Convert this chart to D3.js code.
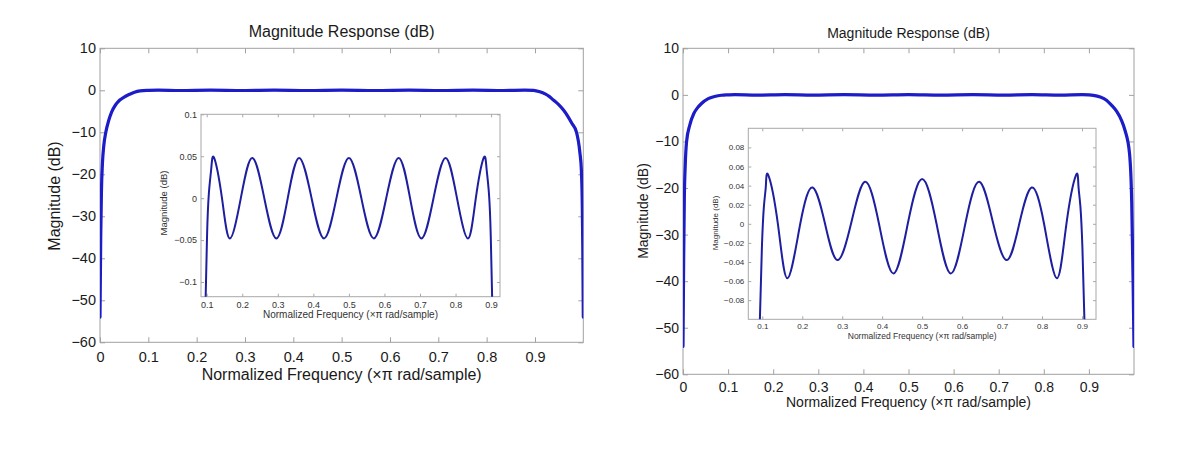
<!DOCTYPE html>
<html><head><meta charset="utf-8">
<script src="https://cdn.jsdelivr.net/npm/d3@7"></script>
<style>
body{margin:0;background:#fff}
svg{display:block}
</style>
</head><body>
<svg id="c" width="1200" height="466"></svg>
<script>
// ---------------- data ----------------
const mainXTicks = [0, 0.1, 0.2, 0.3, 0.4, 0.5, 0.6, 0.7, 0.8, 0.9];
const mainXTickLabels = ["0", "0.1", "0.2", "0.3", "0.4", "0.5", "0.6", "0.7", "0.8", "0.9"];
const mainYTicks = [10, 0, -10, -20, -30, -40, -50, -60];
const mainYTickLabels = ["10", "0", "\u221210", "\u221220", "\u221230", "\u221240", "\u221250", "\u221260"];

const insetXTicks = [0.1, 0.2, 0.3, 0.4, 0.5, 0.6, 0.7, 0.8, 0.9];
const insetXTickLabels = ["0.1", "0.2", "0.3", "0.4", "0.5", "0.6", "0.7", "0.8", "0.9"];
const leftInsetYTicks = [0.1, 0.05, 0, -0.05, -0.1];
const leftInsetYTickLabels = ["0.1", "0.05", "0", "\u22120.05", "\u22120.1"];
const rightInsetYTicks = [0.08, 0.06, 0.04, 0.02, 0, -0.02, -0.04, -0.06, -0.08];
const rightInsetYTickLabels = ["0.08", "0.06", "0.04", "0.02", "0", "\u22120.02", "\u22120.04", "\u22120.06", "\u22120.08"];

const titleText = "Magnitude Response (dB)";
const xLabelText = "Normalized Frequency (\u00d7\u03c0 rad/sample)";
const yLabelText = "Magnitude (dB)";

// left chart, full response
const leftMainFreq = [0, 0.0015, 0.003, 0.005, 0.008, 0.012, 0.018, 0.024, 0.032, 0.041, 0.05, 0.059, 0.07, 0.083, 0.1,
  0.121, 0.165, 0.228, 0.296, 0.36, 0.43, 0.5, 0.57, 0.64, 0.704, 0.772, 0.835, 0.879,
  0.897, 0.91, 0.921, 0.93, 0.938, 0.948, 0.959, 0.968, 0.976, 0.986, 0.993, 0.996, 0.998, 0.999, 1.0];
const leftMainDb = [-54, -35, -24, -17.5, -13, -10, -7.2, -5.2, -3.5, -2.3, -1.6, -1.05, -0.5, -0.12, 0,
  0.05, -0.05, 0.05, -0.05, 0.05, -0.05, 0.05, -0.05, 0.05, -0.05, 0.05, -0.05, 0.05,
  0, -0.35, -0.87, -1.5, -2.3, -3.3, -4.7, -6.2, -7.8, -10, -14.9, -19, -28, -38, -54];

// right chart, full response
const rightMainFreq = [0, 0.0015, 0.003, 0.005, 0.008, 0.015, 0.024, 0.032, 0.041, 0.056, 0.07, 0.085, 0.1,
  0.115, 0.163, 0.226, 0.288, 0.357, 0.428, 0.5, 0.572, 0.643, 0.712, 0.774, 0.837, 0.885,
  0.9, 0.91, 0.925, 0.939, 0.95, 0.962, 0.972, 0.98, 0.99, 0.995, 0.998, 1.0];
const rightMainDb = [-54, -35, -22, -15, -10, -6.5, -4, -2.8, -1.85, -0.8, -0.35, -0.08, 0,
  0.05, -0.06, 0.04, -0.04, 0.04, -0.05, 0.05, -0.05, 0.04, -0.04, 0.04, -0.06, 0.05,
  0, -0.1, -0.45, -1.14, -2.2, -3.6, -5.4, -7.6, -12.5, -23.3, -40, -54];

// left inset (passband zoom)
const leftInsetFreq = [0.088, 0.097, 0.101, 0.106, 0.113, 0.121, 0.143, 0.165, 0.196, 0.228, 0.262, 0.296, 0.328,
  0.36, 0.395, 0.43, 0.465, 0.5, 0.535, 0.57, 0.605, 0.64, 0.672, 0.704, 0.738, 0.772, 0.804, 0.835,
  0.857, 0.879, 0.887, 0.894, 0.899, 0.903, 0.912];
const leftInsetDb = [-0.25, -0.12, -0.045, 0.005, 0.036, 0.048, 0, -0.048, 0, 0.048, 0, -0.048, 0,
  0.048, 0, -0.048, 0, 0.048, 0, -0.048, 0, 0.048, 0, -0.048, 0, 0.048, 0, -0.048,
  0, 0.048, 0.036, 0.005, -0.045, -0.12, -0.25];

// right inset (passband zoom)
const rightInsetFreq = [0.085, 0.094, 0.099, 0.104, 0.109, 0.115, 0.139, 0.163, 0.195, 0.226, 0.257, 0.288, 0.322,
  0.357, 0.392, 0.428, 0.464, 0.5, 0.536, 0.572, 0.608, 0.643, 0.678, 0.712, 0.743, 0.774, 0.805, 0.837,
  0.861, 0.885, 0.891, 0.896, 0.901, 0.906, 0.915];
const rightInsetDb = [-0.25, -0.1, -0.025, 0.018, 0.04, 0.051, 0, -0.057, 0, 0.038, 0, -0.038, 0,
  0.044, 0, -0.052, 0, 0.047, 0, -0.052, 0, 0.044, 0, -0.038, 0, 0.038, 0, -0.057,
  0, 0.051, 0.04, 0.018, -0.025, -0.1, -0.25];

// ---------------- drawing ----------------
const FONT = "'Liberation Sans', Arial, Helvetica, sans-serif";
const svg = d3.select("#c");
let clipId = 0;

function panel(cfg) {
  const x = d3.scaleLinear().domain(cfg.xDomain).range([cfg.left, cfg.right]);
  const y = d3.scaleLinear().domain(cfg.yDomain).range([cfg.bottom, cfg.top]);
  const g = svg.append("g");
  g.append("rect")
    .attr("x", cfg.left).attr("y", cfg.top)
    .attr("width", cfg.right - cfg.left).attr("height", cfg.bottom - cfg.top)
    .attr("fill", "#fff").attr("stroke", "none");

  const styleAxis = (ax) => {
    ax.select(".domain").remove();
    ax.selectAll(".tick line").attr("stroke", cfg.boxColor).attr("stroke-width", 1);
    ax.selectAll("text").attr("fill", cfg.textColor).attr("font-size", cfg.tickFont).attr("font-family", FONT);
  };
  const xLab = (d) => cfg.xTickLabels[cfg.xTicks.indexOf(d)];
  const yLab = (d) => cfg.yTickLabels[cfg.yTicks.indexOf(d)];

  g.append("g").attr("transform", `translate(0,${cfg.bottom})`)
    .call(d3.axisBottom(x).tickValues(cfg.xTicks).tickFormat(xLab)
      .tickSizeInner(-cfg.tickLen).tickSizeOuter(0).tickPadding(cfg.xPad))
    .call(styleAxis);
  g.append("g").attr("transform", `translate(0,${cfg.top})`)
    .call(d3.axisTop(x).tickValues(cfg.xTicks).tickFormat("")
      .tickSizeInner(-cfg.tickLen).tickSizeOuter(0))
    .call(styleAxis);
  g.append("g").attr("transform", `translate(${cfg.left},0)`)
    .call(d3.axisLeft(y).tickValues(cfg.yTicks).tickFormat(yLab)
      .tickSizeInner(-cfg.tickLen).tickSizeOuter(0).tickPadding(cfg.yPad))
    .call(styleAxis);
  g.append("g").attr("transform", `translate(${cfg.right},0)`)
    .call(d3.axisRight(y).tickValues(cfg.yTicks).tickFormat("")
      .tickSizeInner(-cfg.tickLen).tickSizeOuter(0))
    .call(styleAxis);

  g.append("rect")
    .attr("x", cfg.left).attr("y", cfg.top)
    .attr("width", cfg.right - cfg.left).attr("height", cfg.bottom - cfg.top)
    .attr("fill", "none").attr("stroke", cfg.boxColor).attr("stroke-width", 1);

  const id = "clip" + (clipId++);
  svg.append("clipPath").attr("id", id).append("rect")
    .attr("x", cfg.left).attr("y", cfg.top - 2)
    .attr("width", cfg.right - cfg.left).attr("height", cfg.bottom - cfg.top + 2);

  const pts = cfg.freq.map((f, i) => [f, cfg.db[i]]);
  const line = d3.line().x(d => x(d[0])).y(d => y(d[1])).curve(cfg.curve);
  g.append("path").datum(pts)
    .attr("clip-path", `url(#${id})`)
    .attr("d", line).attr("fill", "none")
    .attr("stroke", cfg.lineColor).attr("stroke-width", cfg.lineWidth)
    .attr("stroke-linejoin", "round").attr("stroke-linecap", "round");

  if (cfg.title) {
    g.append("text").attr("x", (cfg.left + cfg.right) / 2).attr("y", cfg.titleY)
      .attr("text-anchor", "middle").attr("font-size", cfg.titleFont).attr("font-family", FONT)
      .attr("fill", cfg.textColor).text(cfg.title);
  }
  g.append("text").attr("x", (cfg.left + cfg.right) / 2).attr("y", cfg.xLabelY)
    .attr("text-anchor", "middle").attr("font-size", cfg.xLabelFont).attr("font-family", FONT)
    .attr("fill", cfg.textColor).text(xLabelText);
  g.append("text")
    .attr("transform", `translate(${cfg.yLabelX},${cfg.yLabelCY}) rotate(-90)`)
    .attr("text-anchor", "middle").attr("font-size", cfg.yLabelFont).attr("font-family", FONT)
    .attr("fill", cfg.textColor).text(yLabelText);
}

const mainColor = "#1c1cc8";
const insetColor = "#1e1ea0";

// Left main
panel({
  left: 100, right: 583.3, top: 48.3, bottom: 342.3,
  xDomain: [0, 1], yDomain: [-60, 10],
  xTicks: mainXTicks, xTickLabels: mainXTickLabels, yTicks: mainYTicks, yTickLabels: mainYTickLabels,
  freq: leftMainFreq, db: leftMainDb, curve: d3.curveMonotoneX,
  tickLen: 5, xPad: 9, yPad: 4, tickFont: 14.5,
  title: titleText, titleY: 37, titleFont: 16,
  xLabelY: 380, xLabelFont: 16, yLabelX: 60, yLabelCY: 196, yLabelFont: 16,
  boxColor: "#a0a0a0", textColor: "#1a1a1a", lineColor: mainColor, lineWidth: 3.2
});
// Left inset
panel({
  left: 201, right: 500, top: 114.3, bottom: 296.7,
  xDomain: [0.084, 0.925], yDomain: [-0.1175, 0.1],
  xTicks: insetXTicks, xTickLabels: insetXTickLabels, yTicks: leftInsetYTicks, yTickLabels: leftInsetYTickLabels,
  freq: leftInsetFreq, db: leftInsetDb, curve: d3.curveNatural,
  tickLen: 3, xPad: 5, yPad: 4, tickFont: 9,
  xLabelY: 318, xLabelFont: 10, yLabelX: 167, yLabelCY: 203, yLabelFont: 9.5,
  boxColor: "#a8a8a8", textColor: "#333", lineColor: insetColor, lineWidth: 2
});
// Right main
panel({
  left: 683, right: 1134, top: 48.3, bottom: 374.3,
  xDomain: [0, 1], yDomain: [-60, 10],
  xTicks: mainXTicks, xTickLabels: mainXTickLabels, yTicks: mainYTicks, yTickLabels: mainYTickLabels,
  freq: rightMainFreq, db: rightMainDb, curve: d3.curveMonotoneX,
  tickLen: 5, xPad: 8, yPad: 4, tickFont: 14,
  title: titleText, titleY: 38, titleFont: 14,
  xLabelY: 406.5, xLabelFont: 14, yLabelX: 648, yLabelCY: 211, yLabelFont: 14,
  boxColor: "#a0a0a0", textColor: "#1a1a1a", lineColor: mainColor, lineWidth: 3.2
});
// Right inset
panel({
  left: 748.3, right: 1096, top: 128.3, bottom: 319.3,
  xDomain: [0.065, 0.935], yDomain: [-0.1, 0.1],
  xTicks: insetXTicks, xTickLabels: insetXTickLabels, yTicks: rightInsetYTicks, yTickLabels: rightInsetYTickLabels,
  freq: rightInsetFreq, db: rightInsetDb, curve: d3.curveNatural,
  tickLen: 3, xPad: 4, yPad: 4, tickFont: 8,
  xLabelY: 339, xLabelFont: 8.5, yLabelX: 718, yLabelCY: 223, yLabelFont: 8,
  boxColor: "#a8a8a8", textColor: "#333", lineColor: insetColor, lineWidth: 2
});
</script>
</body></html>
